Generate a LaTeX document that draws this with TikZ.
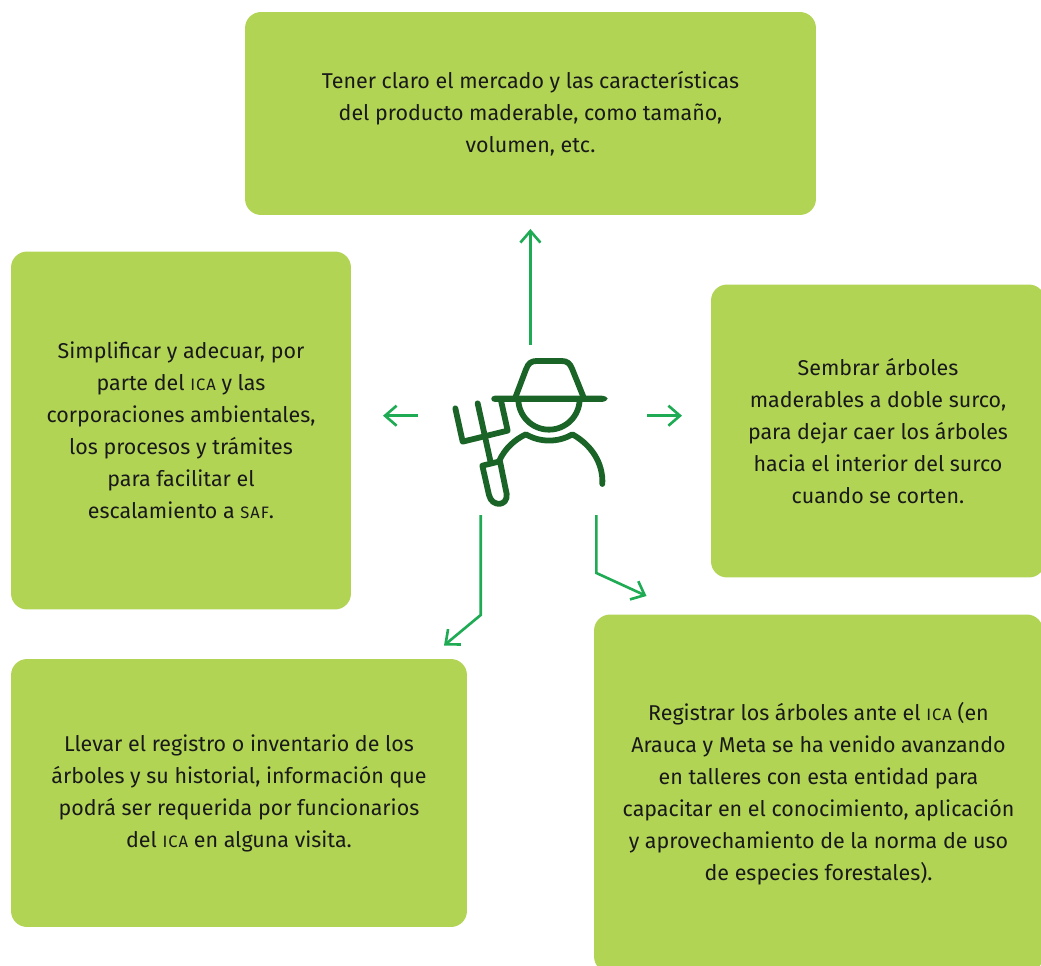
\documentclass[tikz,border=0pt]{standalone}
\usepackage{fontspec}
\setmainfont{Fira Sans}
\usetikzlibrary{arrows.meta}
\definecolor{boxgreen}{HTML}{B1D455}
\definecolor{arrowgreen}{HTML}{1FAB54}
\definecolor{icongreen}{HTML}{1B6427}
\newcommand{\sigla}[1]{{\fontsize{9.4pt}{10pt}\selectfont\addfontfeature{LetterSpace=6}#1}}
\tikzset{
    infobox/.style = {fill = boxgreen, rounded corners = 0.32cm, inner sep = 0pt, align = center, text = black!90,
        font = \fontsize{12.2pt}{18.2pt}\selectfont},
    flecha/.style = {draw = arrowgreen, line width = 1.5pt, -{Straight Barb[length = 6.6pt, width = 11.4pt, line width = 1.5pt]}},
    trazo/.style = {draw = icongreen, line width = 3.3pt, line cap = round, line join = round}
}
\begin{document}
\begin{tikzpicture}[x = 0.02cm, y = -0.02cm]

            \useasboundingbox (0,0) rectangle (1041,966);
            \clip (0,0) rectangle (1041,966);

            \node[infobox, minimum width = 11.42cm, minimum height = 4.06cm] (mercado) at (530.5,113.5) {Tener claro el mercado y las características\\del producto maderable, como tamaño,\\volumen, etc.};
            \node[infobox, minimum width = 6.8cm, minimum height = 7.16cm] (tramites) at (181,430.5) {Simplificar y adecuar, por\\parte del \sigla{ICA} y las\\corporaciones ambientales,\\los procesos y trámites\\para facilitar el\\escalamiento a \sigla{SAF}.};
            \node[infobox, minimum width = 6.68cm, minimum height = 5.86cm] (surco) at (878,431) {Sembrar árboles\\maderables a doble surco,\\para dejar caer los árboles\\hacia el interior del surco\\cuando se corten.};
            \node[infobox, minimum width = 9.12cm, minimum height = 5.36cm] (registro) at (239,793) {Llevar el registro o inventario de los\\árboles y su historial, información que\\podrá ser requerida por funcionarios\\del \sigla{ICA} en alguna visita.};
            \node[infobox, minimum width = 8.98cm, minimum height = 7.16cm] (normas) at (818.5,793.5) {Registrar los árboles ante el \sigla{ICA} (en\\Arauca y Meta se ha venido avanzando\\en talleres con esta entidad para\\capacitar en el conocimiento, aplicación\\y aprovechamiento de la norma de uso\\de especies forestales).};

            \coordinate (arriba) at (530.4,345);
            \coordinate (arribafin) at (530.4,229);
            \coordinate (izq) at (418,415.7);
            \coordinate (izqfin) at (383,415.7);
            \coordinate (der) at (647,415.7);
            \coordinate (derfin) at (682,415.7);
            \coordinate (bajoizq) at (480.7,515);
            \coordinate (codoizq) at (480.7,615);
            \coordinate (bajoizqfin) at (444,645.5);
            \coordinate (bajoder) at (596.4,515);
            \coordinate (cododer) at (596.4,573);
            \coordinate (bajoderfin) at (646.5,596);

            \draw[flecha] (arriba) -- (arribafin);
            \draw[flecha] (izq) -- (izqfin);
            \draw[flecha] (der) -- (derfin);
            \draw[flecha] (bajoizq) -- (codoizq) -- (bajoizqfin);
            \draw[flecha] (bajoder) -- (cododer) -- (bajoderfin);

            \begin{scope}[shift = {(370,220)}, x = 0.00667cm, y = -0.00667cm]
                \draw[trazo] (437,530) -- (468,448) .. controls (475,430) and (483,423) .. (500,423) -- (575,423) .. controls (592,423) and (600,430) .. (607,448) -- (640,530);
                \fill[icongreen] (375,527) -- (695,527) .. controls (705,528) and (713,532) .. (713,536) .. controls (713,540) and (705,545) .. (695,546) -- (375,546) .. controls (360,546) and (360,527) .. (375,527) -- cycle;
                \draw[trazo] (445,537) arc[start angle = 180, end angle = 0, radius = 92];
                \draw[trazo] (388,722) .. controls (405,685) and (435,658) .. (468,643) .. controls (510,668) and (565,668) .. (607,643) .. controls (665,675) and (700,730) .. (697,792);
                \draw[trazo] (256,565) -- (278,665) -- (413,632) -- (392,537);
                \draw[trazo] (323,550) -- (362,727);
                \draw[trazo] (337,737) -- (390,724) -- (410,822) .. controls (414,860) and (365,862) .. (357,825) -- cycle;
            \end{scope}
\end{tikzpicture}
\end{document}
